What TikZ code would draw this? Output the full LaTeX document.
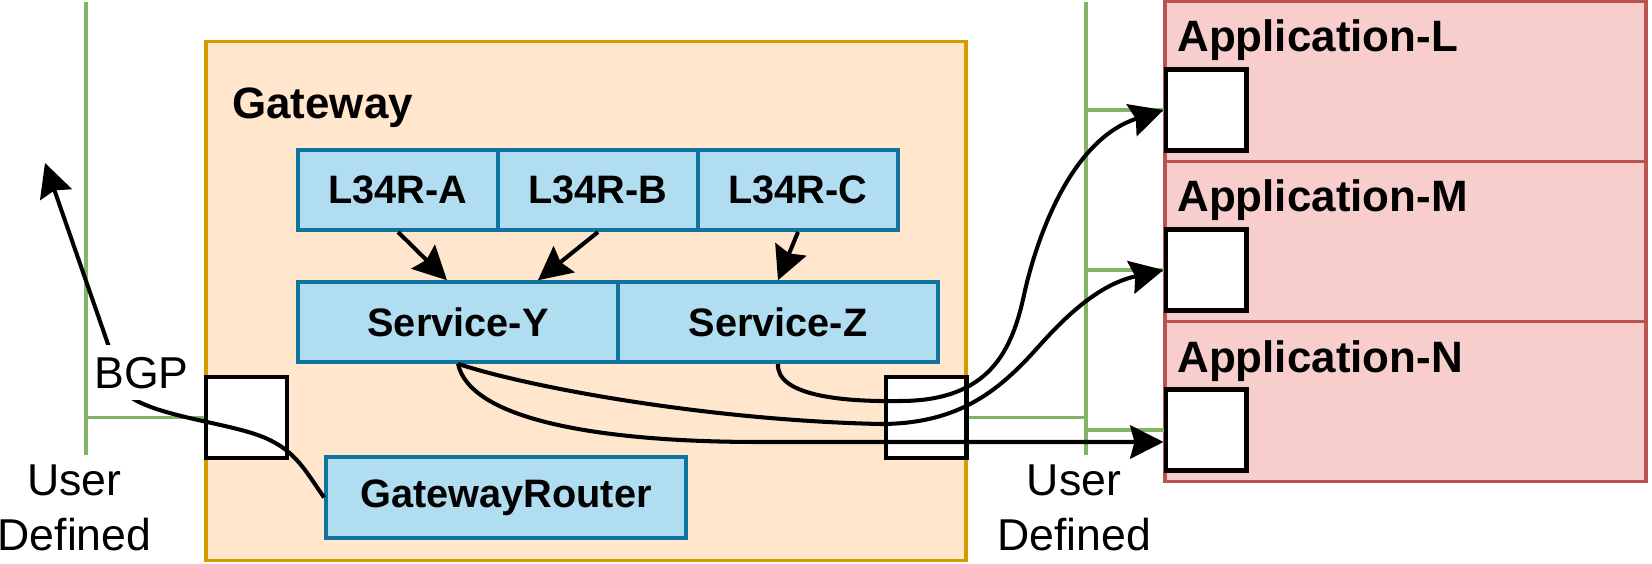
\documentclass[tikz,border=0pt]{standalone}
\usepackage{fontspec}
\setmainfont{Liberation Sans}
\usetikzlibrary{arrows.meta}

\definecolor{gwfill}{HTML}{FFE6CC}
\definecolor{gwline}{HTML}{D79B00}
\definecolor{compfill}{HTML}{B1DDF0}
\definecolor{compline}{HTML}{10739E}
\definecolor{appfill}{HTML}{F8CECC}
\definecolor{appline}{HTML}{B85450}
\definecolor{busline}{HTML}{82B366}

\newcommand{\headfont}{\fontsize{25}{29}\selectfont\bfseries}
\newcommand{\compfont}{\fontsize{22.6}{27}\selectfont\bfseries}
\newcommand{\plainfont}{\fontsize{25.4}{31.5}\selectfont}

\begin{document}
\begin{tikzpicture}[x=0.02cm, y=-0.02cm,
    gateway/.style ={draw=gwline, fill=gwfill, line width=2.2pt},
    component/.style ={draw=compline, fill=compfill, line width=2.3pt,
                       inner sep=0pt, font=\compfont},
    application/.style ={draw=appline, fill=appfill, line width=2.2pt,
                         minimum width=96.2mm, minimum height=32mm},
    port/.style ={draw, fill=white, line width=2.3pt, minimum size=16.2mm},
    heading/.style ={font=\headfont, inner sep=0pt, anchor=base west},
    plain/.style ={font=\plainfont, inner sep=0pt, align=center},
    bus/.style ={draw=busline, line width=2pt},
    flow/.style ={line width=2.3pt, -{Stealth[length=19pt, width=19pt, inset=2.5pt]}}]
   \useasboundingbox (0,0) rectangle (1652,564);

   % user defined network, left
   \draw[bus] (86,2) -- (86,455);

   % gateway
   \node[gateway, minimum width=152mm, minimum height=103.8mm] (GW) at (586,301) {};
   \node[heading] (GWT) at (232,118.5) {Gateway};
   \node[component, minimum width=40mm, minimum height=16mm] (LA) at (398,190) {L34R-A};
   \node[component, minimum width=40mm, minimum height=16mm] (LB) at (598,190) {L34R-B};
   \node[component, minimum width=40mm, minimum height=16mm] (LC) at (798,190) {L34R-C};
   \node[component, minimum width=64mm, minimum height=15.9mm] (SY) at (458,322) {Service-Y};
   \node[component, minimum width=64mm, minimum height=15.9mm] (SZ) at (778,322) {Service-Z};
   \node[component, minimum width=72mm, minimum height=16.2mm] (GR) at (506,497.5) {GatewayRouter};
   \node[port] (PL) at (246.5,417.5) {};
   \node[port] (PR) at (926,417.5) {};
   \draw[bus] (86,417.5) -- (PL.west);

   % applications
   \node[application] (AL) at (1405.5,81.5) {};
   \node[application] (AM) at (1405.5,241.5) {};
   \node[application] (AN) at (1405.5,401.5) {};
   \node[heading] (ALT) at (1177,52) {Application-L};
   \node[heading] (AMT) at (1177,212) {Application-M};
   \node[heading] (ANT) at (1177,372) {Application-N};
   \node[port] (PAL) at (1206,110) {};
   \node[port] (PAM) at (1206,270) {};
   \node[port] (PAN) at (1206,430) {};

   % user defined network, right
   \draw[bus] (1086,2) -- (1086,455);
   \draw[bus] (PR.east) -- (1086,417.5);
   \draw[bus] (1086,110) -- (PAL.west);
   \draw[bus] (1086,270) -- (PAM.west);
   \draw[bus] (1086,430) -- (PAN.west);

   % traffic
   \draw[flow] (LA.south) to ([xshift=-2.2mm]SY.north);
   \draw[flow] (LB.south) to ([xshift=16mm]SY.north);
   \draw[flow] (LC.south) to (SZ.north);
   \draw[flow] (SZ.south) .. controls (776,395) and (840,402) .. (900,401)
      .. controls (990,401) and (1012,350) .. (1024,295)
      .. controls (1036,240) and (1070,140) .. (PAL.west);
   \draw[flow] (SY.south) .. controls (520,385) and (700,420) .. (880,424)
      .. controls (960,424) and (1000,390) .. (1040,345)
      .. controls (1080,300) and (1110,282) .. (PAM.west);
   \draw[flow] (SY.south) .. controls (470,420) and (600,442) .. (760,442)
      -- ([yshift=-2.4mm]PAN.west);

   % bgp
   \coordinate (BGPEND) at (45,163);
   \draw[flow] (GR.west) .. controls (305,470) and (295,450) .. (263,437)
      .. controls (231,424) and (170,418) .. (137,401)
      .. controls (117,391) and (115,365) .. (109,347) -- (BGPEND);
   \node[font=\plainfont, fill=white, inner xsep=2pt, inner ysep=6.5pt, anchor=base] (BGP) at (141.5,388) {BGP};

   \node[plain] (UDL) at (74.5,508) {User\\Defined};
   \node[plain] (UDR) at (1074,508) {User\\Defined};
 \end{tikzpicture}
\end{document}
